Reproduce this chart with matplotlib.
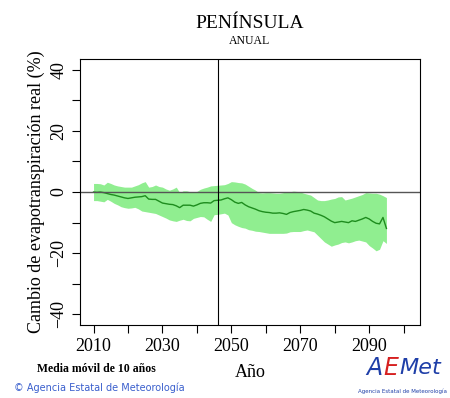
import numpy as np
import matplotlib
matplotlib.use('Agg')
import matplotlib.pyplot as plt

# Years of the 10-year moving average
years = np.arange(2010, 2096)

# Ensemble mean (%)
mean = [0.0, -0.1, 0.0, -0.2, -0.5, -0.8, -1.0, -1.3, -1.6, -1.9,
        -2.1, -1.9, -1.7, -1.6, -1.5, -1.2, -2.3, -2.4, -2.4, -3.0,
        -3.6, -3.8, -4.0, -4.1, -4.5, -5.1, -4.3, -4.3, -4.3, -4.6,
        -4.2, -3.7, -3.5, -3.5, -3.6, -2.8, -2.7, -2.6, -2.2, -1.9,
        -2.5, -3.3, -3.7, -3.4, -4.2, -4.8, -5.2, -5.6, -6.1, -6.4,
        -6.6, -6.7, -6.9, -6.9, -6.8, -7.0, -7.3, -6.7, -6.4, -6.2,
        -6.0, -5.7, -5.9, -6.2, -6.9, -7.2, -7.6, -8.1, -8.8, -9.5,
        -10.0, -9.8, -9.6, -9.8, -10.0, -9.4, -9.6, -9.2, -8.8, -8.3,
        -8.8, -9.6, -10.2, -10.4, -8.3, -11.9]

# Upper limit of the spread (%)
upper = [2.8, 2.8, 2.7, 2.3, 3.2, 2.8, 2.3, 2.0, 1.8, 1.6,
         1.6, 1.6, 2.0, 2.4, 3.0, 3.4, 1.6, 1.8, 2.3, 1.8,
         1.6, 1.0, 0.6, 1.0, 1.6, -0.2, 0.4, 0.4, 0.1, 0.1,
         0.2, 0.9, 1.3, 1.6, 2.0, 2.1, 2.2, 2.3, 2.4, 2.8,
         3.4, 3.3, 3.1, 3.0, 2.6, 1.9, 1.2, 0.6, -0.2, -0.3,
         -0.2, -0.2, -0.3, -0.4, -0.4, -0.2, 0.0, 0.1, 0.3, 0.2,
         0.0, -0.4, -0.7, -1.0, -1.8, -2.6, -2.8, -2.8, -2.6, -2.3,
         -2.1, -1.6, -1.5, -2.6, -2.3, -2.0, -1.6, -1.2, -0.8, -0.2,
         -0.3, -0.4, -0.4, -0.7, -1.2, -1.8]

# Lower limit of the spread (%)
lower = [-2.8, -2.8, -3.0, -3.2, -2.4, -3.0, -3.7, -4.2, -4.8, -5.1,
         -5.3, -5.2, -5.0, -5.5, -6.2, -6.4, -6.6, -6.8, -7.0, -7.5,
         -8.0, -8.5, -9.1, -9.4, -9.6, -9.2, -8.9, -9.3, -9.4, -8.6,
         -8.3, -8.0, -8.1, -8.9, -9.6, -7.4, -7.3, -7.1, -6.9, -7.5,
         -10.0, -10.7, -11.2, -11.6, -11.8, -12.3, -12.5, -12.8, -12.9, -13.1,
         -13.3, -13.5, -13.5, -13.5, -13.5, -13.5, -13.4, -13.0, -12.9, -12.9,
         -12.9, -12.6, -12.4, -12.7, -13.0, -14.1, -15.2, -16.3, -17.0, -17.7,
         -17.3, -17.0, -16.5, -16.3, -16.6, -16.3, -15.9, -15.7, -16.0, -16.3,
         -17.5, -18.3, -19.2, -18.7, -15.9, -16.8]

ref_year = 2046

plt.rcParams['font.family'] = ['Liberation Serif', 'DejaVu Serif']

fig = plt.figure(figsize=(4.5, 3.98), dpi=100)
ax = fig.add_axes([0.178, 0.183, 0.755, 0.669])

ax.fill_between(years, lower, upper, color='#90ee90', linewidth=0)
ax.plot(years, mean, color='#1e8c1e', linewidth=1.0)
ax.axhline(0, color='#555555', linewidth=1.0)
ax.axvline(ref_year, color='black', linewidth=0.8)

ax.set_xlim(2006.1, 2104.7)
ax.set_ylim(-43.5, 43.5)

ax.set_xticks(np.arange(2010, 2101, 10))
ax.set_xticklabels([str(y) if (y - 2010) % 20 == 0 else '' for y in range(2010, 2101, 10)])
ax.set_yticks(np.arange(-40, 41, 10))
ax.set_yticklabels([str(v).replace('-', '\u2212') if v % 20 == 0 else '' for v in range(-40, 41, 10)],
                   rotation=90, va='center')
ax.tick_params(direction='out', length=6, width=0.8, labelsize=13, pad=3)
for s in ax.spines.values():
    s.set_linewidth(0.8)

ax.set_ylabel('Cambio de evapotranspiración real (%)', fontsize=13, labelpad=4)
ax.set_xlabel('Año', fontsize=13, labelpad=7)

fig.text(0.555, 0.94, 'PENÍNSULA', ha='center', va='center', fontsize=14)
fig.text(0.555, 0.897, 'ANUAL', ha='center', va='center', fontsize=8.5)

fig.text(0.082, 0.073, 'Media móvil de 10 años', ha='left', va='center', fontsize=8.5,
         fontweight='bold')
fig.text(0.03, 0.025, '© Agencia Estatal de Meteorología', ha='left', va='center',
         fontsize=7, color='#3a5fcd', family=['DejaVu Sans'])

# AEMet logo approximation
fig.text(0.815, 0.075, 'A', color='#1f3fa8', fontsize=17, style='italic',
         family=['DejaVu Sans'], ha='left', va='center')
fig.text(0.852, 0.075, 'E', color='#d62020', fontsize=17, style='italic',
         family=['DejaVu Sans'], ha='left', va='center')
fig.text(0.888, 0.075, 'Met', color='#1f3fa8', fontsize=16, style='italic',
         family=['DejaVu Sans'], ha='left', va='center')
fig.text(0.895, 0.018, 'Agencia Estatal de Meteorología', color='#1f3fa8', fontsize=4,
         family=['DejaVu Sans'], ha='center', va='center')

fig.savefig('out.png', dpi=100)
